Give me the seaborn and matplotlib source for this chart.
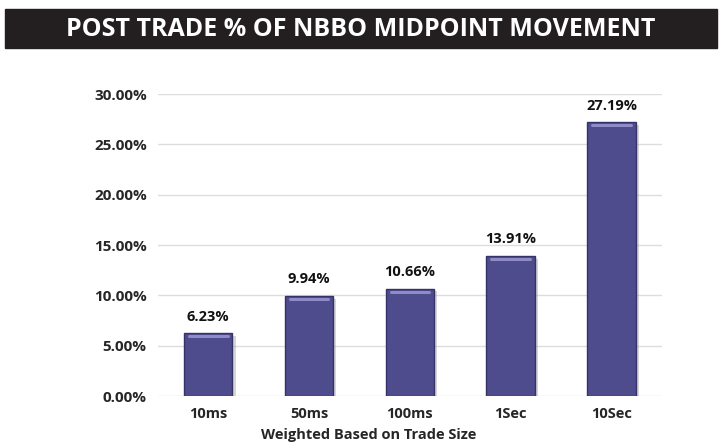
import matplotlib
matplotlib.use("Agg")
import matplotlib.pyplot as plt
import matplotlib.patches as mpatches
import seaborn as sns
import pandas as pd

# chart data
categories = ["10ms", "50ms", "100ms", "1Sec", "10Sec"]
values = [6.23, 9.94, 10.66, 13.91, 27.19]
yticks = [0, 5, 10, 15, 20, 25, 30]

df = pd.DataFrame({"window": categories, "pct": values})

sns.set_style("white")
plt.rcParams['font.family'] = ['Open Sans', 'DejaVu Sans']

fig = plt.figure(figsize=(7.21, 4.42), dpi=100)
ax = fig.add_axes([0.219, 0.104, 0.699, 0.683])

# title bar
fig.patches.append(mpatches.Rectangle((5/721, 1-48/442), 712/721, 39/442,
                                      transform=fig.transFigure, color='#231f20', zorder=0))
fig.text(0.5, 1-29/442, "POST TRADE % OF NBBO MIDPOINT MOVEMENT", color='white',
         fontsize=18, fontweight='bold', ha='center', va='center')

# shadow bars
sns.barplot(data=df, x="window", y="pct", color='#9a9a9a', width=0.48, ax=ax,
            saturation=1, zorder=2)
for p in ax.patches:
    p.set_x(p.get_x() + 0.03)
    p.set_y(-0.25)
    p.set_alpha(0.4)
    p.set_linewidth(0)
n_shadow = len(ax.patches)

sns.barplot(data=df, x="window", y="pct", color='#4f4c8e', width=0.48, ax=ax,
            saturation=1, edgecolor='#35326a', linewidth=1.0, zorder=3)

# bevel highlight near top of each bar
for p in ax.patches[n_shadow:]:
    x0 = p.get_x()
    w = p.get_width()
    h = p.get_height()
    ax.plot([x0 + w*0.1, x0 + w*0.9], [h - 0.3, h - 0.3], color='#8e8bc8', lw=2.2,
            zorder=4, solid_capstyle='round')

for i, v in enumerate(values):
    ax.text(i, v + 0.95, f"{v:.2f}%", ha='center', va='bottom', fontsize=10.5,
            fontweight='bold', color='#111111')

ax.set_ylim(0, 30)
ax.set_xlim(-0.5, 4.5)
ax.set_yticks(yticks)
ax.set_yticklabels([f"{t:.2f}%" for t in yticks], fontsize=11, fontweight='bold')
ax.tick_params(axis='y', length=0, pad=8)
ax.tick_params(axis='x', length=0, pad=8, labelsize=10.5)
for lab in ax.get_xticklabels():
    lab.set_fontweight('bold')
ax.yaxis.grid(True, color='#dddddd', lw=1)
ax.set_axisbelow(True)
for s in ax.spines.values():
    s.set_visible(False)
ax.set_xlabel("Weighted Based on Trade Size", fontsize=10.5, fontweight='bold')
ax.xaxis.set_label_coords((369 - 158) / 504, -(435 - 396) / 302)
ax.xaxis.label.set_va('center')
ax.set_ylabel("")

fig.savefig("out.png", dpi=100)
